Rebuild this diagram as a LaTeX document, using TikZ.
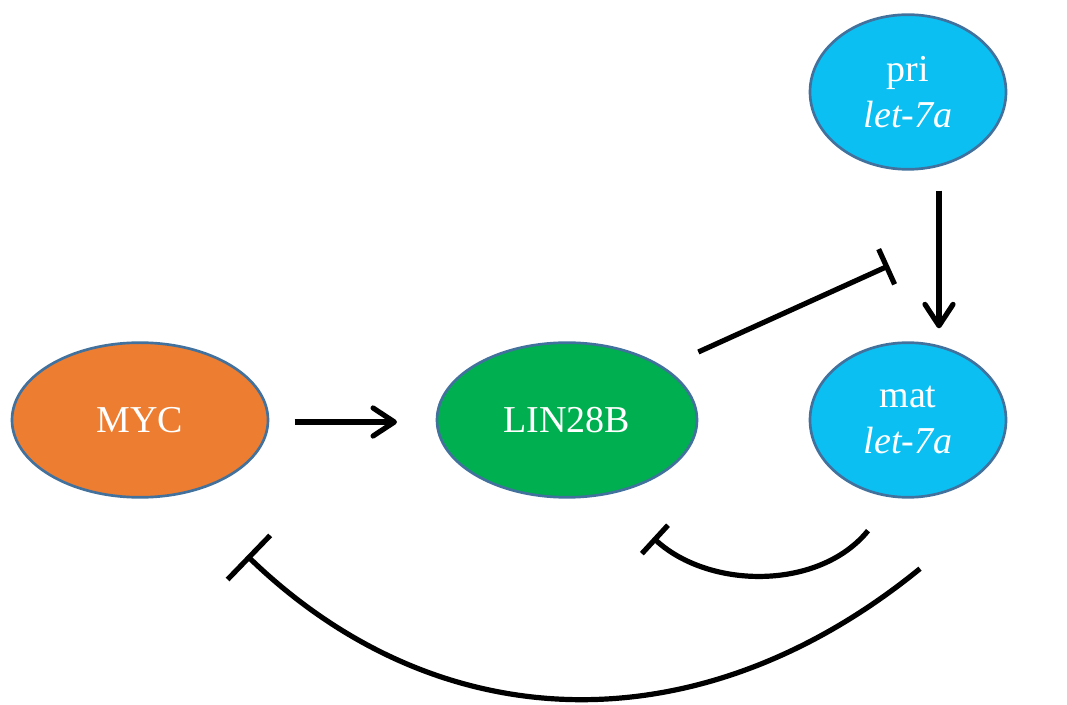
\documentclass[tikz,border=0pt]{standalone}
\usepackage{fontspec}
\setmainfont{Liberation Serif}
\usetikzlibrary{shapes.geometric,arrows.meta,calc}
\definecolor{edgeblue}{HTML}{41719C}
\definecolor{mycorange}{HTML}{ED7D31}
\definecolor{lingreen}{HTML}{00B050}
\definecolor{letcyan}{HTML}{0BBFF2}
\tikzset{
  gene/.style={ellipse, draw=edgeblue, line width=2pt, inner sep=0pt,
    minimum width=192pt, minimum height=116pt, text=white, align=center,
    font=\fontsize{28.5}{34}\selectfont},
  mir/.style={gene, fill=letcyan, minimum width=147pt},
  act/.style={line width=3.9pt, -{Straight Barb[length=16pt,width=21pt,line width=3.9pt,round]}},
  inh/.style={line width=3.9pt, -{Bar[width=#1,line width=3.9pt]}},
}
\begin{document}
\begin{tikzpicture}[x=0.75pt,y=-0.75pt]
\useasboundingbox (0,0) rectangle (1067,705);
\node[gene, fill=mycorange] (myc) at (140,420) {MYC};
\node[gene, fill=lingreen, minimum width=195pt] (lin) at (567,420) {LIN28B};
\node[mir] (pri) at (908,92) {pri\\\textit{let-7a}};
\node[mir] (mat) at (908,420) {mat\\\textit{let-7a}};
% activations
\draw[act, shorten <=19pt, shorten >=29pt] ([yshift=-1.5pt]myc.east) -- ([yshift=-1.5pt]lin.west);
\draw[act] ($(pri.south)+(31,20)$) -- ($(mat.north)+(31,-13)$);
% inhibitions
\coordinate (t1) at ($(pri.south)+(-19,95)$);
\draw[inh=29pt] ($(lin.east)+(0,-68)$) -- (t1);
\coordinate (t2) at ($(lin.south)+(86,39)$);
\draw[inh=29pt] ($(mat.south)+(-40,32)$) .. controls (820,590) and (710,590) .. (t2);
\coordinate (t3) at ($(myc.south)+(107,57)$);
\draw[inh=46pt] ($(mat.south)+(12,70)$) .. controls (700,748) and (440,742) .. (t3);
\end{tikzpicture}
\end{document}
